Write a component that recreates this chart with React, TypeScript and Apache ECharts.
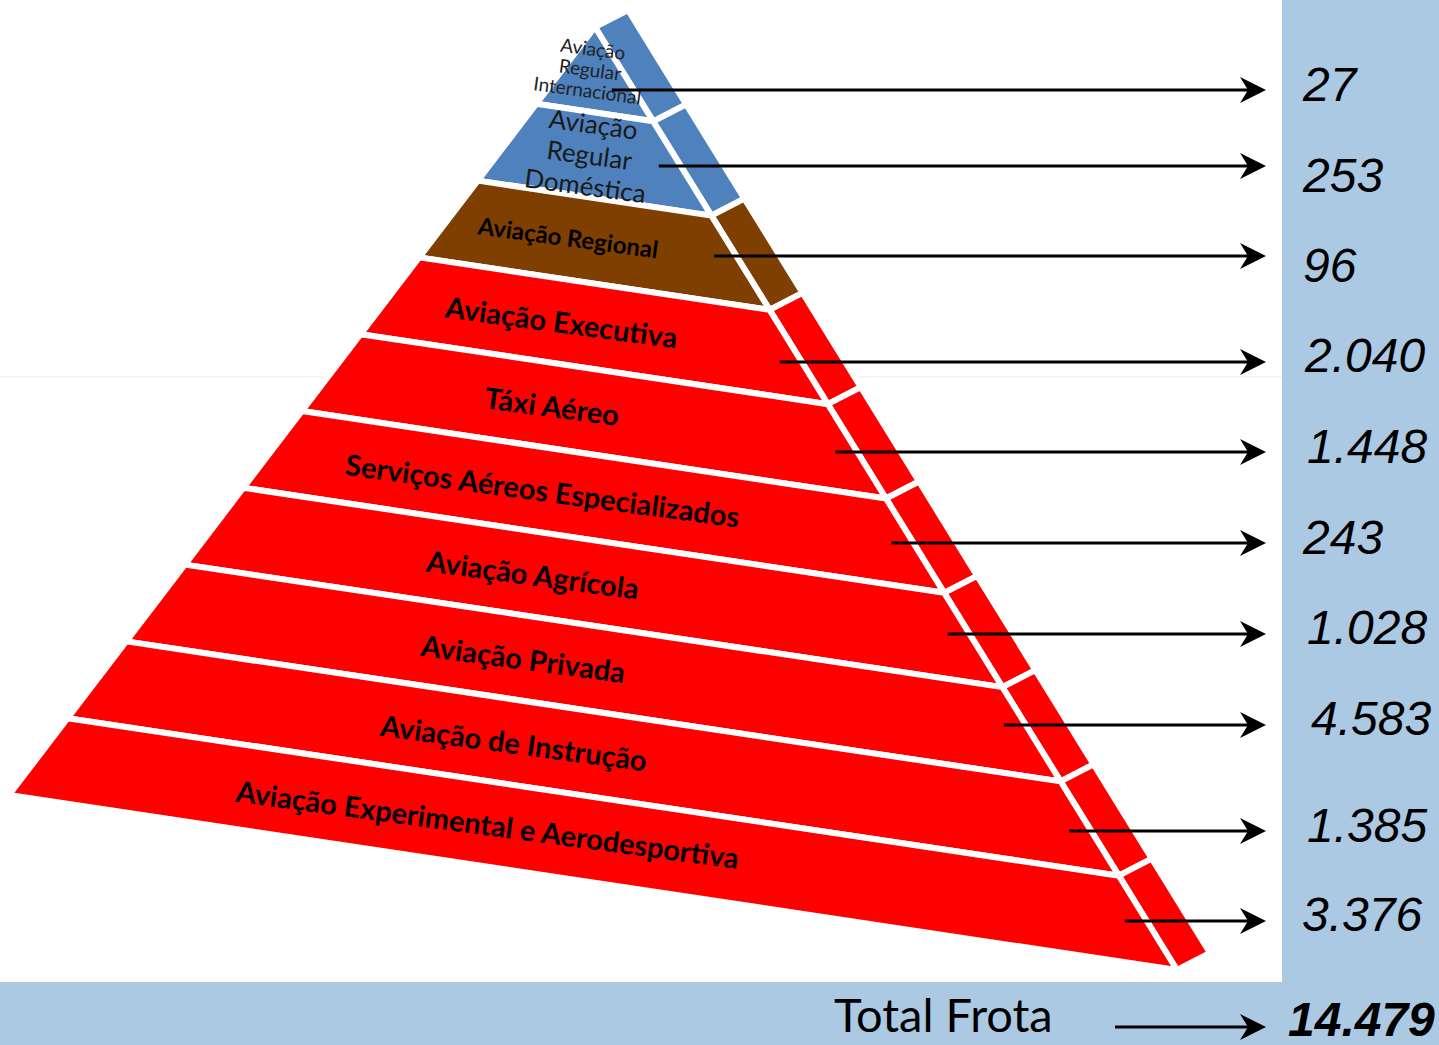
import React, { useEffect, useRef } from "react";
import * as echarts from "echarts";

// ---------------- data ----------------
const categories: string[] = [
  "Aviação\nRegular\nInternacional",
  "Aviação\nRegular\nDoméstica",
  "Aviação Regional",
  "Aviação Executiva",
  "Táxi Aéreo",
  "Serviços Aéreos Especializados",
  "Aviação Agrícola",
  "Aviação Privada",
  "Aviação de Instrução",
  "Aviação Experimental e Aerodesportiva",
];
const fleet: number[] = [27, 253, 96, 2040, 1448, 243, 1028, 4583, 1385, 3376];
const groups: string[] = [
  "regular", "regular", "regional", "geral", "geral",
  "geral", "geral", "geral", "geral", "geral",
];
const totalLabel = "Total Frota";

// ---------------- layout / style ----------------
const W = 1439;
const H = 1045;
const N = categories.length;
const APEX = [595, 27];
const LEFT_BASE = [9, 795];
const RIGHT_BASE = [1177, 970];
const DEPTH = [33, -17];
const GAP = 6;
const ARROW_Y = [90, 166, 256, 362, 452, 543, 634, 725, 831, 921];
const NUM_Y = [84, 175, 265, 355, 446, 537, 627, 718, 825, 914];
const NUM_X = [1303, 1303, 1303, 1305, 1307, 1303, 1307, 1311, 1307, 1302];
const ARROW_TIP_X = 1266;
const PANEL_X = 1282;
const STRIP_Y = 982;
const TOTAL_Y = 1014;
const COLORS: Record<string, string> = {
  regular: "#4F81BD",
  regional: "#7F3F00",
  geral: "#FF0000",
};
const PANEL_COLOR = "#ACC9E3";
const LABEL_SIZE = [19, 26, 24, 29, 29, 29, 29, 29, 29, 29];
const LABEL_WEIGHT = ["normal", "normal", "bold", "bold", "bold", "bold", "bold", "bold", "bold", "bold"];
const LABEL_COLOR = ["#222", "#1a1a1a", "#000", "#000", "#000", "#000", "#000", "#000", "#000", "#000"];
const LABEL_LH = [21, 31, 28, 28, 28, 28, 28, 28, 28, 28];
const LABEL_FRAC = [0.42, 0.47, 0.41, 0.42, 0.42, 0.42, 0.42, 0.42, 0.42, 0.405];

const fmt = (v: number) => String(v).replace(/\B(?=(\d{3})+(?!\d))/g, ".");
const lerp = (a: number[], b: number[], t: number) => [a[0] + (b[0] - a[0]) * t, a[1] + (b[1] - a[1]) * t];
const add = (a: number[], b: number[]) => [a[0] + b[0], a[1] + b[1]];
const slope = Math.atan2(RIGHT_BASE[1] - LEFT_BASE[1], RIGHT_BASE[0] - LEFT_BASE[0]);

export default function App() {
  const ref = useRef<HTMLDivElement>(null);
  useEffect(() => {
    if (!ref.current) return;
    const chart = echarts.init(ref.current, undefined, { renderer: "svg" });
    const total = fleet.reduce((s, v) => s + v, 0);
    const data = fleet.map((v, i) => [i, v]);

    const pyramidItem = (params: any, api: any) => {
      const k = api.value(0) as number;
      const t0 = k / N;
      const t1 = (k + 1) / N;
      const L0 = lerp(APEX, LEFT_BASE, t0);
      const L1 = lerp(APEX, LEFT_BASE, t1);
      const R0 = lerp(APEX, RIGHT_BASE, t0);
      const R1 = lerp(APEX, RIGHT_BASE, t1);
      const fill = COLORS[groups[k]];
      const front = [L0, R0, R1, L1].map((p) => api.coord(p));
      const side = [R0, add(R0, DEPTH), add(R1, DEPTH), R1].map((p) => api.coord(p));
      const st = { fill, stroke: "#ffffff", lineWidth: GAP, lineJoin: "bevel" };
      return {
        type: "group",
        children: [
          { type: "polygon", shape: { points: side }, style: st },
          { type: "polygon", shape: { points: front }, style: st },
        ],
      };
    };

    const annotationItem = (params: any, api: any) => {
      const k = api.value(0) as number;
      const v = api.value(1) as number;
      const tm = (k + 0.5) / N;
      const Lm = lerp(APEX, LEFT_BASE, tm);
      const Rm = lerp(APEX, RIGHT_BASE, tm);
      const c = api.coord(lerp(Lm, Rm, LABEL_FRAC[k]));
      const ay = ARROW_Y[k];
      const edgeX = APEX[0] + ((ay - APEX[1]) * (RIGHT_BASE[0] - APEX[0])) / (RIGHT_BASE[1] - APEX[1]);
      const a0 = api.coord([edgeX - 22, ay]);
      const a1 = api.coord([ARROW_TIP_X - 12, ay]);
      const tip = api.coord([ARROW_TIP_X, ay]);
      const head = [
        tip,
        [tip[0] - 26, tip[1] - 13],
        [tip[0] - 18, tip[1]],
        [tip[0] - 26, tip[1] + 13],
      ];
      const num = api.coord([NUM_X[k], NUM_Y[k]]);
      return {
        type: "group",
        children: [
          {
            type: "text",
            x: c[0],
            y: c[1],
            rotation: -slope * 0.9,
            style: {
              text: categories[k],
              fill: LABEL_COLOR[k],
              fontSize: LABEL_SIZE[k],
              fontWeight: LABEL_WEIGHT[k],
              fontFamily: "Lato",
              lineHeight: LABEL_LH[k],
              align: "center",
              verticalAlign: "middle",
            },
          },
          {
            type: "line",
            shape: { x1: a0[0], y1: a0[1], x2: a1[0], y2: a1[1] },
            style: { stroke: "#000", lineWidth: 3 },
          },
          { type: "polygon", shape: { points: head }, style: { fill: "#000" } },
          {
            type: "text",
            x: num[0],
            y: num[1],
            style: {
              text: fmt(v),
              fill: "#000",
              fontSize: 48,
              fontStyle: "italic",
              fontFamily: "Liberation Sans",
              align: "left",
              verticalAlign: "middle",
            },
          },
        ],
      };
    };

    chart.setOption({
      animation: false,
      backgroundColor: "#ffffff",
      grid: { left: 0, right: 0, top: 0, bottom: 0 },
      xAxis: { type: "value", min: 0, max: W, show: false },
      yAxis: { type: "value", min: 0, max: H, inverse: true, show: false },
      graphic: [
        { type: "rect", z: -10, shape: { x: PANEL_X, y: 0, width: W - PANEL_X, height: STRIP_Y }, style: { fill: PANEL_COLOR } },
        { type: "rect", z: -10, shape: { x: 0, y: STRIP_Y, width: W, height: H - STRIP_Y }, style: { fill: PANEL_COLOR } },
        { type: "line", z: -9, shape: { x1: 0, y1: 377, x2: PANEL_X, y2: 377 }, style: { stroke: "#ececec", lineWidth: 1 } },
        {
          type: "text",
          z: 10,
          x: 834,
          y: TOTAL_Y,
          style: {
            text: totalLabel,
            fill: "#000",
            fontSize: 47,
            lineHeight: 48,
            fontFamily: "Lato",
            align: "left",
            verticalAlign: "middle",
          },
        },
        { type: "line", z: 10, shape: { x1: 1115, y1: 1027, x2: ARROW_TIP_X - 12, y2: 1027 }, style: { stroke: "#000", lineWidth: 3 } },
        {
          type: "polygon",
          z: 10,
          shape: {
            points: [
              [ARROW_TIP_X, 1027],
              [ARROW_TIP_X - 26, 1014],
              [ARROW_TIP_X - 18, 1027],
              [ARROW_TIP_X - 26, 1040],
            ],
          },
          style: { fill: "#000" },
        },
        {
          type: "text",
          z: 10,
          x: 1288,
          y: 1019,
          style: {
            text: fmt(total),
            fill: "#000",
            fontSize: 48,
            fontWeight: "bold",
            fontStyle: "italic",
            fontFamily: "Liberation Sans",
            align: "left",
            verticalAlign: "middle",
          },
        },
      ],
      series: [
        { type: "custom", name: "pyramid", silent: true, z: 2, renderItem: pyramidItem, data },
        { type: "custom", name: "labels", silent: true, z: 5, renderItem: annotationItem, data },
      ],
    });
    return () => chart.dispose();
  }, []);
  return <div ref={ref} style={{ position: "fixed", left: 0, top: 0, width: W, height: H }} />;
}
